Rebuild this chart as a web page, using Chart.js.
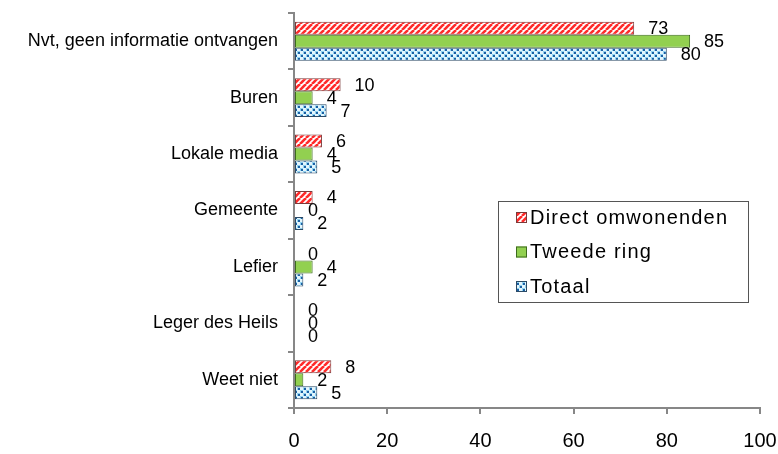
<!DOCTYPE html>
<html>
<head>
<meta charset="utf-8">
<script src="https://cdn.jsdelivr.net/npm/chart.js@4"></script>
<style>
html,body{margin:0;padding:0;background:#fff;}
#wrap{width:778px;height:454px;position:relative;}
</style>
</head>
<body>
<div id="wrap"><canvas id="c" width="778" height="454"></canvas></div>
<script>
const categories = ['Nvt, geen informatie ontvangen','Buren','Lokale media','Gemeente','Lefier','Leger des Heils','Weet niet'];
const seriesNames = ['Direct omwonenden','Tweede ring','Totaal'];
const directOmwonenden = [73,10,6,4,0,0,8];
const tweedeRing = [85,4,4,0,4,0,2];
const totaal = [80,7,5,2,2,0,5];
const xTicks = [0,20,40,60,80,100];

const FONT = "'Liberation Sans', Arial, sans-serif";

function makePattern(draw, w, h){
  const c = document.createElement('canvas');
  c.width = w; c.height = h;
  const x = c.getContext('2d');
  draw(x, w, h);
  return x.createPattern(c, 'repeat');
}
const redPattern = makePattern((x,w,h)=>{
  x.fillStyle = '#ffffff'; x.fillRect(0,0,w,h);
  x.strokeStyle = '#ff2a2a'; x.lineWidth = 2.6;
  for (let o=-w; o<=w; o+=w){
    x.beginPath(); x.moveTo(o,h); x.lineTo(o+w,0); x.stroke();
  }
}, 6, 6);
const bluePattern = makePattern((x,w,h)=>{
  x.fillStyle = '#e4f5fc'; x.fillRect(0,0,w,h);
  x.fillStyle = '#8fd2f0'; x.fillRect(0,0,3,3); x.fillRect(3,3,3,3);
  x.fillStyle = '#1a5fa3';
  x.fillRect(1,1,2,2); x.fillRect(4,4,2,2);
}, 6, 6);
const greenFill = '#92d050';

const fills = [redPattern, greenFill, bluePattern];
const borders = ['#7a3a3a', '#3d6b1e', '#2b4a66'];

const valueLabels = {
  id: 'valueLabels',
  afterDatasetsDraw(chart){
    const ctx = chart.ctx;
    ctx.save();
    ctx.font = '18px ' + FONT;
    ctx.fillStyle = '#000';
    ctx.textAlign = 'left';
    ctx.textBaseline = 'middle';
    chart.data.datasets.forEach((ds, di)=>{
      chart.getDatasetMeta(di).data.forEach((el, i)=>{
        ctx.fillText(String(ds.data[i]), el.x + 14, el.y + 1);
      });
    });
    ctx.restore();
  }
};

const insideLegend = {
  id: 'insideLegend',
  afterDraw(chart){
    const ctx = chart.ctx;
    const a = chart.chartArea;
    const bx = a.left + 204, by = a.top + 188, bw = 250, bh = 101;
    ctx.save();
    ctx.fillStyle = '#fff';
    ctx.fillRect(bx, by, bw, bh);
    ctx.strokeStyle = '#555';
    ctx.lineWidth = 1;
    ctx.strokeRect(bx + 0.5, by + 0.5, bw, bh);
    ctx.font = '20px ' + FONT;
    try { ctx.letterSpacing = '1.2px'; } catch(e) {}
    ctx.textBaseline = 'middle';
    ctx.textAlign = 'left';
    chart.data.datasets.forEach((ds, i)=>{
      const cy = by + 17 + i * 34.5;
      ctx.fillStyle = fills[i];
      ctx.fillRect(bx + 18, cy - 6, 11, 11);
      ctx.strokeStyle = borders[i];
      ctx.strokeRect(bx + 18.5, cy - 5.5, 10, 10);
      ctx.fillStyle = '#000';
      ctx.fillText(ds.label, bx + 32, cy);
    });
    ctx.restore();
  }
};

new Chart(document.getElementById('c'), {
  type: 'bar',
  data: {
    labels: categories,
    datasets: [
      {label: seriesNames[0], data: directOmwonenden, backgroundColor: redPattern, borderColor: borders[0], borderWidth: 1},
      {label: seriesNames[1], data: tweedeRing, backgroundColor: greenFill, borderColor: borders[1], borderWidth: 1},
      {label: seriesNames[2], data: totaal, backgroundColor: bluePattern, borderColor: borders[2], borderWidth: 1}
    ]
  },
  options: {
    indexAxis: 'y',
    responsive: false,
    animation: false,
    devicePixelRatio: 1,
    layout: {padding: {top: 13, right: 18, left: 0, bottom: 0}},
    datasets: {bar: {categoryPercentage: 0.69, barPercentage: 1.0, borderSkipped: false}},
    plugins: {legend: {display: false}, tooltip: {enabled: false}, title: {display: false}},
    scales: {
      x: {
        min: 0, max: 100,
        afterBuildTicks(s){ s.ticks = xTicks.map(v=>({value:v})); },
        afterFit(s){ s.height = 46; s.paddingLeft = 0; s.paddingRight = 0; },
        ticks: {color: '#000', font: {family: FONT, size: 20}, padding: 15},
        grid: {drawOnChartArea: false, drawTicks: true, tickLength: 6, color: '#878787', lineWidth: 2},
        border: {color: '#878787', width: 2}
      },
      y: {
        afterFit(s){ s.width = 294; s.paddingTop = 0; s.paddingBottom = 0; },
        ticks: {color: '#000', font: {family: FONT, size: 18}, padding: 10},
        grid: {offset: true, drawOnChartArea: false, drawTicks: true, tickLength: 6, color: '#878787', lineWidth: 2},
        border: {color: '#878787', width: 2}
      }
    }
  },
  plugins: [valueLabels, insideLegend]
});
</script>
</body>
</html>
